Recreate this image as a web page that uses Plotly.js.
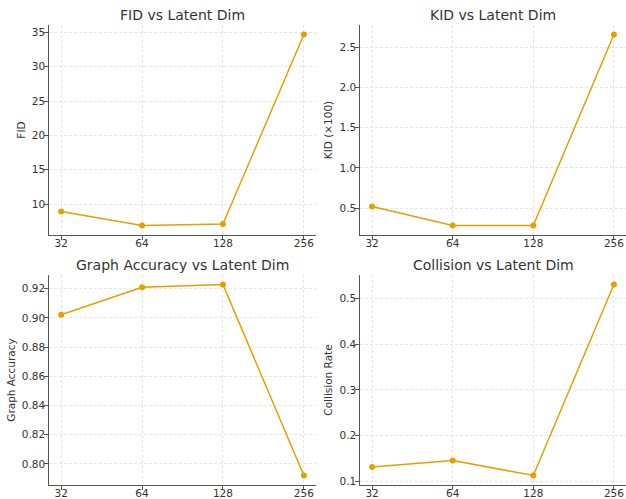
<!DOCTYPE html>
<html>
<head>
<meta charset="utf-8">
<script src="https://cdn.plot.ly/plotly-3.0.1.min.js"></script>
<style>html,body{margin:0;padding:0;background:#fff}#chart{width:626px;height:499px}</style>
</head>
<body>
<div id="chart"></div>
<script>
const latentDims = ['32', '64', '128', '256'];
const fidValues = [8.94, 6.90, 7.10, 34.67];
const kidValues = [0.52, 0.285, 0.285, 2.657];
const accValues = [0.9022, 0.9211, 0.9229, 0.7921];
const collisionValues = [0.1313, 0.1453, 0.1125, 0.5313];

const panelTitles = ['FID vs Latent Dim', 'KID vs Latent Dim', 'Graph Accuracy vs Latent Dim', 'Collision vs Latent Dim'];
const yLabels = ['FID', 'KID (×100)', 'Graph Accuracy', 'Collision Rate'];

const W = 626, H = 499;
const orange = '#e69f00';
const textColor = '#333333';
const font = 'DejaVu Sans, sans-serif';

function pad(vals) {
  const mn = Math.min(...vals), mx = Math.max(...vals);
  const p = (mx - mn) * 0.05;
  return [mn - p, mx + p];
}

const series = [fidValues, kidValues, accValues, collisionValues];
const traces = series.map((vals, i) => ({
  x: latentDims, y: vals, type: 'scatter', mode: 'lines+markers',
  xaxis: i === 0 ? 'x' : 'x' + (i + 1), yaxis: i === 0 ? 'y' : 'y' + (i + 1),
  line: {color: orange, width: 1.5},
  marker: {color: orange, size: 6},
  showlegend: false, hoverinfo: 'x+y'
}));

const xDomains = [[49 / W, 316 / W], [360 / W, 1], [49 / W, 316 / W], [360 / W, 1]];
const yDomains = [[(H - 235) / H, (H - 25) / H], [(H - 235) / H, (H - 25) / H], [(H - 485) / H, (H - 275) / H], [(H - 485) / H, (H - 275) / H]];
const dticks = [5, 0.5, 0.02, 0.1];
const fmts = ['d', '.1f', '.2f', '.1f'];

const layout = {
  width: W, height: H,
  margin: {l: 0, r: 0, t: 0, b: 0},
  paper_bgcolor: '#fff', plot_bgcolor: '#fff',
  font: {family: font, color: textColor, size: 10.5},
  showlegend: false,
  annotations: []
};

for (let i = 0; i < 4; i++) {
  const xk = i === 0 ? 'xaxis' : 'xaxis' + (i + 1);
  const yk = i === 0 ? 'yaxis' : 'yaxis' + (i + 1);
  const ya = i === 0 ? 'y' : 'y' + (i + 1);
  const xa = i === 0 ? 'x' : 'x' + (i + 1);
  layout[xk] = {
    domain: xDomains[i], anchor: ya, type: 'category',
    range: [-0.15, 3.15],
    showline: true, linecolor: '#555', linewidth: 1.2,
    ticks: 'outside', ticklen: 3.5, tickcolor: '#555', tickwidth: 1,
    ticklabelstandoff: -5,
    showgrid: true, gridcolor: '#e0e0e0', griddash: '3px,2px', gridwidth: 0.8,
    zeroline: false, tickfont: {size: 10.5, color: textColor, family: font},
    fixedrange: true
  };
  layout[yk] = {
    domain: yDomains[i], anchor: xa,
    range: pad(series[i]), dtick: dticks[i], tickformat: fmts[i],
    showline: true, linecolor: '#555', linewidth: 1.2,
    ticks: 'outside', ticklen: 3.5, tickcolor: '#555', tickwidth: 1,
    ticklabelstandoff: -3,
    showgrid: true, gridcolor: '#e0e0e0', griddash: '3px,2px', gridwidth: 0.8,
    zeroline: false, tickfont: {size: 10.5, color: textColor, family: font},
    title: {text: yLabels[i], font: {size: 10.5, color: textColor, family: font}, standoff: 4},
    fixedrange: true
  };
  const xd = xDomains[i], yd = yDomains[i];
  layout.annotations.push({
    text: panelTitles[i], xref: 'paper', yref: 'paper',
    x: (xd[0] + xd[1]) / 2, y: yd[1] + 10 / H,
    xanchor: 'center', yanchor: 'middle', showarrow: false,
    font: {size: 14, color: textColor, family: font}
  });
}

Plotly.newPlot('chart', traces, layout, {displayModeBar: false, staticPlot: true});
</script>
</body>
</html>
